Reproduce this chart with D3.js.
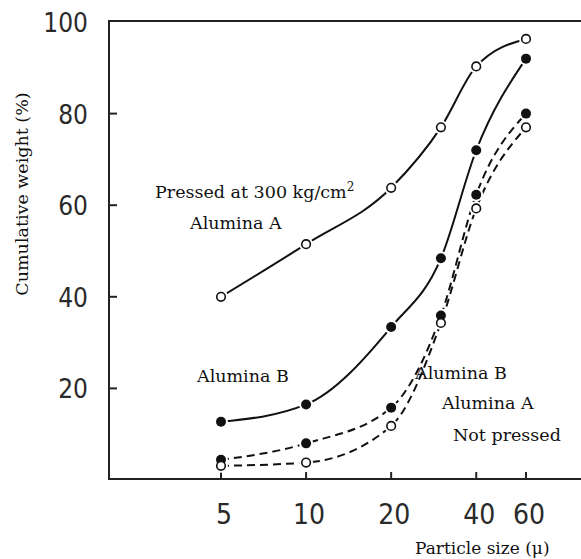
<!DOCTYPE html>
<html>
<head>
<meta charset="utf-8">
<script src="https://cdn.jsdelivr.net/npm/d3@7"></script>
<style>
  body { margin: 0; background: #fff; }
  .tick-num { font-family: "DejaVu Sans Condensed", "DejaVu Sans", sans-serif; font-stretch: condensed; fill: #2a2a2a; }
  .note { font-family: "DejaVu Serif", serif; fill: #111; }
</style>
</head>
<body>
<svg id="chart"></svg>
<script>
var sizes = [5, 10, 20, 30, 40, 60];
var pressedA = [40, 51.5, 63.8, 77, 90.3, 96.3];
var pressedB = [12.7, 16.5, 33.4, 48.4, 72, 92];
var notPressedB = [4.4, 8, 15.8, 35.9, 62.3, 80];
var notPressedA = [3.1, 3.8, 11.8, 34.3, 59.3, 77];
var xTicks = [5, 10, 20, 40, 60];
var yTicks = [20, 40, 60, 80, 100];

var W = 581, H = 559;
var axisLeft = 109, axisBottom = 479, axisTop = 21;

var svg = d3.select('#chart').attr('width', W).attr('height', H);

var x = d3.scaleLog().domain([5, 60]).range([221, 526]);
var y = d3.scaleLinear().domain([0, 100]).range([480, 22]);

// frame: left, top, bottom
svg.append('path')
  .attr('d', 'M' + W + ',' + axisTop + 'H' + axisLeft + 'V' + axisBottom + 'H' + W)
  .attr('fill', 'none').attr('stroke', '#222').attr('stroke-width', 2);

// y ticks
svg.selectAll('.ytick').data(yTicks.filter(d => d < 100)).enter().append('line')
  .attr('x1', axisLeft).attr('x2', axisLeft + 8)
  .attr('y1', d => y(d)).attr('y2', d => y(d))
  .attr('stroke', '#222').attr('stroke-width', 2);
svg.selectAll('.ylab').data(yTicks).enter().append('text')
  .attr('class', 'tick-num')
  .attr('x', 88).attr('y', d => y(d) + 10)
  .attr('text-anchor', 'end').attr('font-size', 26)
  .text(d => d);

// x ticks
svg.selectAll('.xtick').data(xTicks).enter().append('line')
  .attr('x1', d => x(d)).attr('x2', d => x(d))
  .attr('y1', axisBottom).attr('y2', axisBottom - 7)
  .attr('stroke', '#222').attr('stroke-width', 2);
svg.selectAll('.xlab').data(xTicks).enter().append('text')
  .attr('class', 'tick-num')
  .attr('x', d => x(d) + 3).attr('y', 524)
  .attr('text-anchor', 'middle').attr('font-size', 28)
  .text(d => d);

// axis titles
svg.append('text').attr('class', 'note')
  .attr('transform', 'translate(28,194) rotate(-90)')
  .attr('text-anchor', 'middle').attr('font-size', 17.5)
  .text('Cumulative weight (%)');
svg.append('text').attr('class', 'note')
  .attr('x', 415).attr('y', 554).attr('font-size', 17)
  .text('Particle size (μ)');

// curves
var line = d3.line()
  .x(d => x(d[0])).y(d => y(d[1]))
  .curve(d3.curveMonotoneX);

var series = [
  { vals: pressedA, filled: false, dashed: false },
  { vals: pressedB, filled: true, dashed: false },
  { vals: notPressedB, filled: true, dashed: true },
  { vals: notPressedA, filled: false, dashed: true }
];

series.forEach(function (s) {
  var pts = sizes.map((d, i) => [d, s.vals[i]]);
  svg.append('path')
    .attr('d', line(pts))
    .attr('fill', 'none').attr('stroke', '#111').attr('stroke-width', 2)
    .attr('stroke-dasharray', s.dashed ? '8,5' : null);
});

// white gaps around markers
series.forEach(function (s) {
  svg.append('g').selectAll('circle').data(s.vals).enter().append('circle')
    .attr('cx', (d, i) => x(sizes[i])).attr('cy', d => y(d))
    .attr('r', 7).attr('fill', '#fff');
});

series.forEach(function (s) {
  svg.append('g').selectAll('circle').data(s.vals).enter().append('circle')
    .attr('cx', (d, i) => x(sizes[i])).attr('cy', d => y(d))
    .attr('r', s.filled ? 5 : 4.3)
    .attr('fill', s.filled ? '#111' : '#fff')
    .attr('stroke', '#111').attr('stroke-width', s.filled ? 0 : 1.6);
});

// annotations
var t = svg.append('text').attr('class', 'note')
  .attr('x', 155).attr('y', 198).attr('font-size', 17.5);
t.append('tspan').text('Pressed at 300 kg/cm');
t.append('tspan').attr('dy', -7).attr('font-size', 12).text('2');

var notes = [
  ['Alumina A', 190, 229],
  ['Alumina B', 197, 382],
  ['Alumina B', 415, 379],
  ['Alumina A', 442, 409],
  ['Not pressed', 453, 441]
];
svg.selectAll('.ann').data(notes).enter().append('text')
  .attr('class', 'note')
  .attr('x', d => d[1]).attr('y', d => d[2]).attr('font-size', 17.5)
  .text(d => d[0]);
</script>
</body>
</html>
